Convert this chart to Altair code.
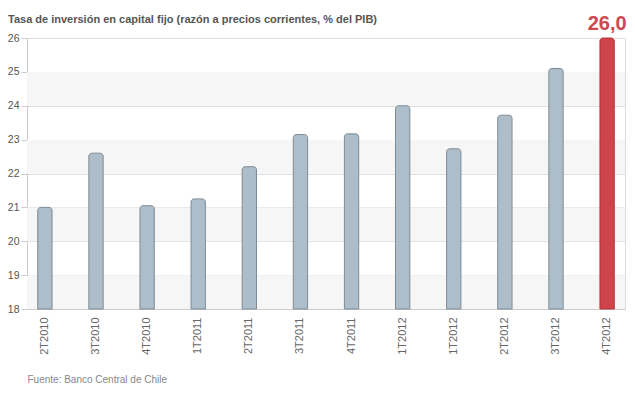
import altair as alt
import pandas as pd

labels = ["2T2010", "3T2010", "4T2010", "1T2011", "2T2011", "3T2011",
          "4T2011", "1T2012", "1T2012", "2T2012", "3T2012", "4T2012"]
values = [21.0, 22.6, 21.05, 21.25, 22.2, 23.15, 23.17, 24.0, 22.73, 23.72, 25.1, 26.0]
highlight = [False] * 11 + [True]
y_ticks = [18, 19, 20, 21, 22, 23, 24, 25, 26]

band_lo = [18, 20, 22, 24]
band_hi = [19, 21, 23, 25]

df = pd.DataFrame({"k": list(range(len(labels))), "label": labels,
                   "value": values, "hl": highlight, "base": [18] * len(labels)})
bands = pd.DataFrame({"lo": band_lo, "hi": band_hi})

label_expr = "[" + ",".join("'%s'" % l for l in labels) + "][datum.value]"

yscale = alt.Scale(domain=[18, 26], nice=False, zero=False)
xscale = alt.Scale(paddingInner=0.72, paddingOuter=0.21)
yaxis = alt.Axis(values=y_ticks, tickCount=9, title=None, labelFontSize=10.5,
                 labelColor="#555", labelFont="Liberation Sans",
                 labelOverlap=False, labelFlush=False, labelSeparation=0,
                 tickSize=6, tickColor="#ccc", labelPadding=2,
                 domainColor="#ccc", gridColor="#dedede")
xaxis = alt.Axis(labelExpr=label_expr, labelAngle=-90, labelAlign="right",
                 labelBaseline="middle", labelFontSize=11, labelColor="#666",
                 labelFont="Liberation Sans", labelPadding=8,
                 ticks=False, domain=True, domainColor="#ccc", grid=False,
                 title="Fuente: Banco Central de Chile", titleAnchor="start",
                 titleAlign="left", titleBaseline="alphabetic", titleX=0,
                 titleY=73, titleFontSize=10, titleFontWeight="normal",
                 titleColor="#888", titleFont="Liberation Sans")

shade = alt.Chart(bands).mark_rect(color="#f6f6f6").encode(
    y=alt.Y("lo:Q", scale=yscale, axis=yaxis),
    y2="hi:Q",
)

bars = alt.Chart(df).mark_bar(cornerRadiusTopLeft=3, cornerRadiusTopRight=3,
                              strokeWidth=1).encode(
    x=alt.X("k:O", scale=xscale, axis=xaxis),
    y=alt.Y("value:Q", scale=yscale, axis=yaxis),
    y2="base:Q",
    fill=alt.condition("datum.hl", alt.value("#cf434b"), alt.value("#adbdc9")),
    stroke=alt.condition("datum.hl", alt.value("#b5343c"), alt.value("#7e8b95")),
)

txt = alt.Chart(df).transform_filter("datum.hl").transform_calculate(
    t="replace(format(datum.value, '.1f'), '.', ',')"
).mark_text(
    dy=-4, baseline="bottom", fontSize=20, fontWeight="bold", color="#d0474f",
    font="Liberation Sans").encode(
    x=alt.X("k:O", scale=xscale, axis=xaxis),
    y=alt.Y("value:Q", scale=yscale, axis=yaxis),
    text="t:N",
)

chart = alt.layer(shade, bars, txt).properties(
    width=598, height=271,
    autosize=alt.AutoSizeParams(type="none"),
    padding={"left": 19, "top": 30, "right": 2, "bottom": 76},
    title=alt.Title("Tasa de inversión en capital fijo (razón a precios corrientes, % del PIB)",
                    anchor="start", frame="group", fontSize=11, fontWeight="bold",
                    color="#555", font="Liberation Sans", offset=-11, dx=-19),
).configure_view(stroke="#ddd", strokeWidth=1)

chart.save("out.html", embed_options={"renderer": "svg", "actions": False})
